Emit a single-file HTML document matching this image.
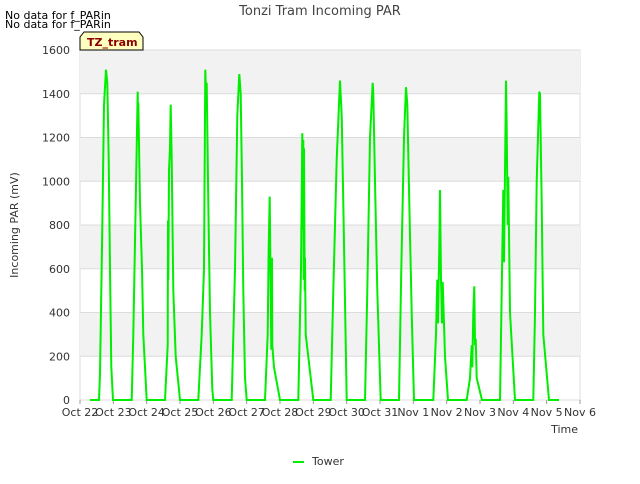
<!DOCTYPE html>
<html><head><meta charset="utf-8"><style>
body{margin:0;background:#fff;font-family:"DejaVu Sans","Liberation Sans",sans-serif;}
svg text{font-family:"DejaVu Sans","Liberation Sans",sans-serif;}
</style></head><body>
<svg id="c" width="640" height="480" xmlns="http://www.w3.org/2000/svg">
<text x="320" y="15" text-anchor="middle" font-size="13" fill="#444">Tonzi Tram Incoming PAR</text>
<text x="5" y="19" font-size="11" fill="#000">No data for f_PARin</text>
<text x="5" y="28" font-size="11" fill="#000">No data for f_PARin</text>
<g id="bands"></g><g id="grid"></g>
<g id="ticks"></g>
<path id="line" fill="none" stroke="#00ee00" stroke-width="2"/>
<g>
<path d="M80,50 L80,37 L84,32 L139,32 L143,37 L143,50 Z" fill="#ffffc0" stroke="#000" stroke-width="1"/>
<text x="87" y="46" font-size="11" font-weight="bold" fill="#8b0000">TZ_tram</text></g>
<text x="18" y="225" font-size="11" fill="#333" text-anchor="middle" transform="rotate(-90 18 225)">Incoming PAR (mV)</text>
<text x="578" y="433" font-size="11" fill="#333" text-anchor="end">Time</text>
<g><line x1="293" y1="462" x2="304" y2="462" stroke="#00ee00" stroke-width="2"/><text x="312" y="465" font-size="11" fill="#333">Tower</text></g>
</svg>
<script>
const xLabels=["Oct 22","Oct 23","Oct 24","Oct 25","Oct 26","Oct 27","Oct 28","Oct 29","Oct 30","Oct 31","Nov 1","Nov 2","Nov 3","Nov 4","Nov 5","Nov 6"];
const yTicks=[0,200,400,600,800,1000,1200,1400,1600];
const times=[0.3,0.57,0.6,0.66,0.72,0.78,0.82,0.86,0.9,0.94,0.99,
1.55,1.6,1.67,1.73,1.745,1.75,1.8,1.86,1.9,2.0,
2.55,2.63,2.64,2.65,2.67,2.7,2.72,2.75,2.8,2.87,3.0,
3.55,3.65,3.72,3.76,3.78,3.8,3.85,3.9,3.97,4.0,
4.55,4.65,4.72,4.78,4.82,4.86,4.9,4.95,5.0,
5.55,5.63,5.66,5.69,5.72,5.74,5.76,5.77,5.82,6.0,
6.55,6.63,6.67,6.69,6.7,6.71,6.72,6.74,6.75,6.77,7.0,
7.52,7.6,7.7,7.8,7.85,7.9,8.0,
8.55,8.62,8.7,8.78,8.8,8.85,8.92,9.02,
9.57,9.64,9.72,9.78,9.82,9.88,9.95,10.02,
10.6,10.68,10.72,10.74,10.78,10.8,10.83,10.86,10.88,10.95,11.04,
11.6,11.7,11.75,11.77,11.8,11.83,11.85,11.87,11.9,12.06,
12.6,12.7,12.72,12.78,12.8,12.83,12.85,12.9,13.05,
13.6,13.65,13.7,13.78,13.8,13.85,13.9,14.07,14.37];
const values=[0,0,120,700,1350,1510,1450,1100,600,150,0,
0,300,900,1410,1200,1360,900,600,300,0,
0,250,820,550,1050,1150,1350,1100,500,200,0,
0,300,600,1510,1400,1450,900,400,50,0,
0,600,1300,1490,1400,1000,500,100,0,
0,300,700,930,500,230,650,250,150,0,
0,600,1220,780,1190,550,1150,500,650,300,0,
0,500,1100,1460,1300,900,0,
0,500,1200,1450,1400,1000,500,0,
0,600,1200,1430,1350,900,400,0,
0,300,550,350,700,960,550,350,540,200,0,
0,100,250,150,400,520,250,280,100,0,
0,960,630,1460,1250,800,1020,400,0,
0,400,1000,1410,1400,900,300,0,0];
const X0=80,X1=580,Y0=400,Y1=50;
const sx=d=>X0+(X1-X0)*d/15, sy=v=>Y0-(Y0-Y1)*v/1600;
const NS="http://www.w3.org/2000/svg";
const mk=(t,a,p)=>{const e=document.createElementNS(NS,t);for(const k in a)e.setAttribute(k,a[k]);p.appendChild(e);return e;};
const bands=document.getElementById('bands'),grid=document.getElementById('grid'),ticks=document.getElementById('ticks');
mk('rect',{x:X0,y:Y1,width:X1-X0,height:Y0-Y1,fill:'#fff',stroke:'#ddd'},bands);
for(let i=0;i<yTicks.length-1;i++){if(i%2===1){const r=mk('rect',{x:X0,y:sy(yTicks[i+1]),width:X1-X0,height:sy(yTicks[i])-sy(yTicks[i+1]),fill:'#f2f2f2'},bands);

}}
yTicks.forEach(v=>{mk('line',{x1:X0,x2:X1,y1:sy(v),y2:sy(v),stroke:'#dcdcdc'},grid);
const t=mk('text',{x:X0-10,y:sy(v)+4,'font-size':11,fill:'#333','text-anchor':'end'},ticks);t.textContent=v;

});
xLabels.forEach((l,i)=>{mk('line',{x1:sx(i),x2:sx(i),y1:Y0,y2:Y0+4,stroke:'#999'},ticks);
const t=mk('text',{x:sx(i),y:Y0+16,'font-size':11,fill:'#333','text-anchor':'middle'},ticks);t.textContent=l;

});
document.getElementById('line').setAttribute('d',times.map((d,i)=>(i?'L':'M')+sx(d).toFixed(1)+','+sy(values[i]).toFixed(1)).join(' '));
</script>
</body></html>
